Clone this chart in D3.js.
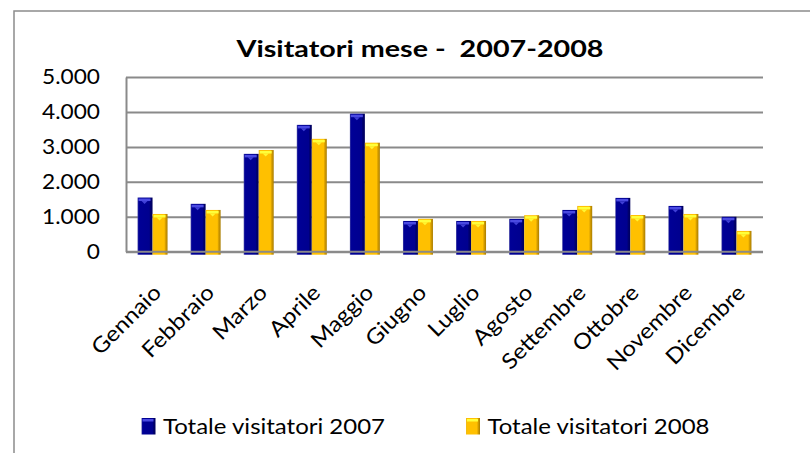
<!DOCTYPE html>
<html>
<head>
<meta charset="utf-8">
<script src="https://cdn.jsdelivr.net/npm/d3@7"></script>
<style>
  body { margin: 0; background: #fff; }
  text { font-family: Lato, "Open Sans", sans-serif; fill: #000; }
</style>
</head>
<body>
<div id="chart"></div>
<script>
// Data
const months = ['Gennaio', 'Febbraio', 'Marzo', 'Aprile', 'Maggio', 'Giugno',
                'Luglio', 'Agosto', 'Settembre', 'Ottobre', 'Novembre', 'Dicembre'];
const series = ['Totale visitatori 2007', 'Totale visitatori 2008'];
const visitors2007 = [1550, 1370, 2800, 3630, 3950, 880, 880, 940, 1195, 1540, 1310, 1000];
const visitors2008 = [1080, 1195, 2910, 3230, 3120, 940, 880, 1045, 1310, 1050, 1080, 595];
const yTicks = [0, 1000, 2000, 3000, 4000, 5000];
const title = 'Visitatori mese -  2007-2008';

const W = 810, H = 453;
const plot = {left: 126, right: 763, top: 77, bottom: 251.7};

const svg = d3.select('#chart').append('svg')
    .attr('width', W)
    .attr('height', H);

const defs = svg.append('defs');

// the original text is a bit wider than Lato, so stretch it horizontally
function stretch(sel, factor) {
    sel.each(function() {
        const len = this.getComputedTextLength();
        d3.select(this)
            .attr('textLength', len * factor)
            .attr('lengthAdjust', 'spacingAndGlyphs');
    });
}

// bar shading, approximating the bevelled 3D bars
function addGrad(id, stops) {
    const g = defs.append('linearGradient').attr('id', id)
        .attr('x1', 0).attr('x2', 1).attr('y1', 0).attr('y2', 0);
    stops.forEach(s => g.append('stop').attr('offset', s[0]).attr('stop-color', s[1]));
}
addGrad('g2007', [[0, '#4a4aa6'], [0.08, '#000096'], [0.78, '#00008f'], [0.86, '#000070'], [1, '#00005c']]);
addGrad('g2008', [[0, '#e8b820'], [0.08, '#ffc000'], [0.78, '#ffc000'], [0.86, '#d9a000'], [1, '#a87c00']]);
const capColor = ['#4a4ae2', '#ffff3a'];
const fills = ['url(#g2007)', 'url(#g2008)'];

// outer frame
svg.append('rect')
    .attr('x', 14).attr('y', 11)
    .attr('width', 900).attr('height', 500)
    .attr('fill', 'none')
    .attr('stroke', '#8c8c8c')
    .attr('stroke-width', 1.5);

// title
const titleText = svg.append('text')
    .attr('x', 420)
    .attr('y', 57)
    .attr('text-anchor', 'middle')
    .style('font-size', '23.5px')
    .style('font-weight', 'bold')
    .style('white-space', 'pre')
    .text(title);
stretch(titleText, 367 / titleText.node().getComputedTextLength());

// scales
const x0 = d3.scaleBand()
    .domain(months)
    .range([plot.left, plot.right])
    .paddingInner(0.435)
    .paddingOuter(0.2175);

const x1 = d3.scaleBand()
    .domain(series)
    .range([0, x0.bandwidth()]);

const y = d3.scaleLinear()
    .domain([0, 5000])
    .range([plot.bottom, plot.top]);

const itLocale = d3.formatLocale({decimal: ',', thousands: '.', grouping: [3], currency: ['€', '']});
const fmt = itLocale.format(',d');

// gridlines
svg.append('g')
    .attr('transform', `translate(${plot.left},0)`)
    .call(d3.axisLeft(y).tickValues(yTicks).tickSize(-(plot.right - plot.left)).tickFormat(''))
    .call(g => g.select('.domain').remove())
    .call(g => g.selectAll('line').attr('stroke', '#8a8a8a').attr('stroke-width', 2));

// y axis labels
const yAxis = svg.append('g')
    .attr('transform', `translate(${plot.left},0)`)
    .call(d3.axisLeft(y).tickValues(yTicks).tickSize(0).tickPadding(26).tickFormat(fmt))
    .call(g => g.select('.domain').attr('stroke', '#8a8a8a').attr('stroke-width', 2));
const yLabels = yAxis.selectAll('text')
    .style('font-family', 'Lato, sans-serif')
    .style('font-size', '21.5px')
    .attr('fill', '#000');
const yFactor = 58 / yLabels.filter(d => d === 5000).node().getComputedTextLength();
stretch(yLabels, yFactor);

// bars
const rows = months.map((m, i) => ({month: m, values: [visitors2007[i], visitors2008[i]]}));

const groups = svg.append('g').selectAll('g')
    .data(rows)
    .join('g')
    .attr('transform', d => `translate(${x0(d.month)},0)`);

const bars = groups.selectAll('g')
    .data(d => d.values.map((v, k) => ({key: series[k], k: k, value: v})))
    .join('g');

const bw = x1.bandwidth();

bars.append('rect')
    .attr('x', d => x1(d.key))
    .attr('y', d => y(d.value))
    .attr('width', bw)
    .attr('height', d => y(0) - y(d.value) + 3)
    .attr('fill', d => fills[d.k]);

// top bevel
bars.append('rect')
    .attr('x', d => x1(d.key) + 1)
    .attr('y', d => y(d.value) + 1)
    .attr('width', bw - 3)
    .attr('height', 2.5)
    .attr('fill', d => capColor[d.k]);

bars.append('path')
    .attr('d', d => {
        const bx = x1(d.key), ty = y(d.value) + 3.5;
        return `M${bx + 4},${ty} L${bx + bw - 5},${ty} L${bx + bw / 2 - 0.5},${ty + 3} Z`;
    })
    .attr('fill', d => capColor[d.k])
    .attr('opacity', 0.85);

// x axis line
svg.append('line')
    .attr('x1', plot.left).attr('x2', plot.right)
    .attr('y1', y(0)).attr('y2', y(0))
    .attr('stroke', '#8a8a8a')
    .attr('stroke-width', 2);

// legend (measured first so month labels can reuse its stretch factor)
const legendX = [141.5, 466];
const legend = svg.append('g').selectAll('g')
    .data(series)
    .join('g')
    .attr('transform', (d, i) => `translate(${legendX[i]},418)`);

legend.append('rect')
    .attr('width', 14)
    .attr('height', 16.5)
    .attr('fill', (d, i) => fills[i]);

legend.append('rect')
    .attr('x', 1).attr('y', 1)
    .attr('width', 11).attr('height', 2.5)
    .attr('fill', (d, i) => capColor[i]);

const legendText = legend.append('text')
    .attr('x', 21.5)
    .attr('y', 15.5)
    .style('font-size', '21.5px')
    .text(d => d);
const textFactor = 222 / legendText.node().getComputedTextLength();
stretch(legendText, textFactor);

// month labels, rotated
const monthLabels = svg.append('g').selectAll('text')
    .data(months)
    .join('text')
    .attr('text-anchor', 'end')
    .attr('transform', d => `translate(${x0(d) + x0.bandwidth() / 2 + 10},294) rotate(-45)`)
    .style('font-size', '21.5px')
    .text(d => d);
stretch(monthLabels, textFactor);
</script>
</body>
</html>
